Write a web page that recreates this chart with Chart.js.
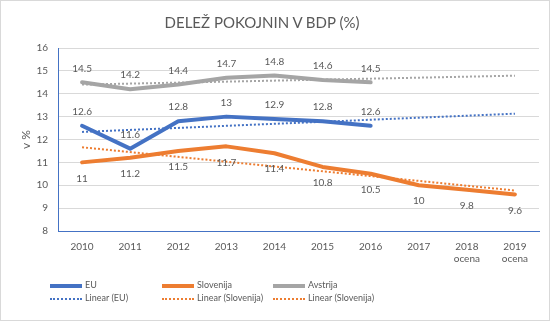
<!DOCTYPE html>
<html>
<head>
<meta charset="utf-8">
<script src="https://cdn.jsdelivr.net/npm/chart.js@4.4.1/dist/chart.umd.min.js"></script>
<style>
  html, body { margin:0; padding:0; background:#fff; }
  #wrap { position:relative; width:550px; height:321px; box-sizing:border-box; border:1px solid #d9d9d9; overflow:hidden; }
  #c { position:absolute; left:0; top:0; }
  #title { position:absolute; left:0; width:522px; top:12px; text-align:center; font-family:Lato, sans-serif; font-size:15px; color:#595959; }
  .leg { position:absolute; font-family:Lato, sans-serif; font-size:9px; color:#595959; line-height:12px; white-space:nowrap; }
  .leg i { display:inline-block; width:32px; vertical-align:middle; margin-right:3px; }
</style>
</head>
<body>
<div id="wrap">
  <canvas id="c" width="550" height="321"></canvas>
  <div id="title">DELEŽ POKOJNIN V BDP (%)</div>
  <div class="leg" style="left:49px;top:278px"><i style="border-top:4px solid #4472C4"></i>EU</div>
  <div class="leg" style="left:49px;top:291px"><i style="border-top:2px dotted #4472C4"></i>Linear (EU)</div>
  <div class="leg" style="left:161px;top:278px"><i style="border-top:4px solid #ED7D31"></i>Slovenija</div>
  <div class="leg" style="left:161px;top:291px"><i style="border-top:2px dotted #ED7D31"></i>Linear (Slovenija)</div>
  <div class="leg" style="left:272px;top:278px"><i style="border-top:4px solid #A5A5A5"></i>Avstrija</div>
  <div class="leg" style="left:272px;top:291px"><i style="border-top:2px dotted #ED7D31"></i>Linear (Slovenija)</div>
</div>
<script>
const YEARS = [['2010'], ['2011'], ['2012'], ['2013'], ['2014'], ['2015'], ['2016'], ['2017'], ['2018', 'ocena'], ['2019', 'ocena']];
const EU = [12.6, 11.6, 12.8, 13, 12.9, 12.8, 12.6, null, null, null];
const SLOVENIJA = [11, 11.2, 11.5, 11.7, 11.4, 10.8, 10.5, 10, 9.8, 9.6];
const AVSTRIJA = [14.5, 14.2, 14.4, 14.7, 14.8, 14.6, 14.5, null, null, null];
// trend lines: at the first and last year
const TREND_EU = [12.33, null, null, null, null, null, null, null, null, 13.13];
const TREND_SLO = [11.66, null, null, null, null, null, null, null, null, 9.77];
const TREND_AVS = [14.40, null, null, null, null, null, null, null, null, 14.79];

const BLUE = '#4472C4', ORANGE = '#ED7D31', GREY = '#A5A5A5';

const valueLabels = {
  id: 'valueLabels',
  afterDatasetsDraw(chart) {
    const ctx = chart.ctx;
    ctx.save();
    ctx.font = '10px Lato, sans-serif';
    ctx.fillStyle = '#595959';
    ctx.textAlign = 'center';
    ctx.textBaseline = 'middle';
    chart.data.datasets.forEach((ds, i) => {
      if (!ds.labelOff) return;
      chart.getDatasetMeta(i).data.forEach((pt, j) => {
        const v = ds.data[j];
        if (v == null) return;
        ctx.fillText(String(v), pt.x, pt.y + ds.labelOff);
      });
    });
    ctx.restore();
  }
};

const line = (label, data, color, order, labelOff) => ({
  label, data, borderColor: color, backgroundColor: color, borderWidth: 4,
  pointRadius: 0, tension: 0, borderJoinStyle: 'round', borderCapStyle: 'round',
  order, labelOff, spanGaps: false
});
const trend = (label, data, color) => ({
  label, data, borderColor: color, borderWidth: 2, borderDash: [2, 2],
  pointRadius: 0, spanGaps: true, order: 0
});

new Chart(document.getElementById('c').getContext('2d'), {
  type: 'line',
  data: {
    labels: YEARS,
    datasets: [
      line('EU', EU, BLUE, 1, -14),
      line('Slovenija', SLOVENIJA, ORANGE, 1, 16),
      line('Avstrija', AVSTRIJA, GREY, 1, -14),
      trend('Linear (EU)', TREND_EU, BLUE),
      trend('Linear (Slovenija)', TREND_SLO, ORANGE),
      trend('Linear (Avstrija)', TREND_AVS, GREY)
    ]
  },
  options: {
    responsive: false, animation: false,
    layout: { padding: { left: 18, top: 47, right: 12, bottom: 0 } },
    plugins: { legend: { display: false }, title: { display: false }, tooltip: { enabled: false } },
    scales: {
      x: {
        offset: true,
        grid: { display: false, drawTicks: false },
        border: { color: BLUE, width: 1 },
        ticks: { color: '#595959', font: { family: 'Lato', size: 10 }, padding: 10, maxRotation: 0 },
        afterFit: s => { s.height = 91; }
      },
      y: {
        min: 8, max: 16,
        grid: { color: '#d9d9d9', lineWidth: 1, drawTicks: false },
        border: { color: BLUE, width: 1 },
        ticks: { stepSize: 1, color: '#595959', font: { family: 'Lato', size: 10 }, padding: 10 },
        title: { display: true, text: 'v %', color: '#595959', font: { family: 'Lato', size: 12 }, padding: 0 },
        afterFit: s => { s.width = 39; }
      }
    }
  },
  plugins: [valueLabels]
});
</script>
</body>
</html>
